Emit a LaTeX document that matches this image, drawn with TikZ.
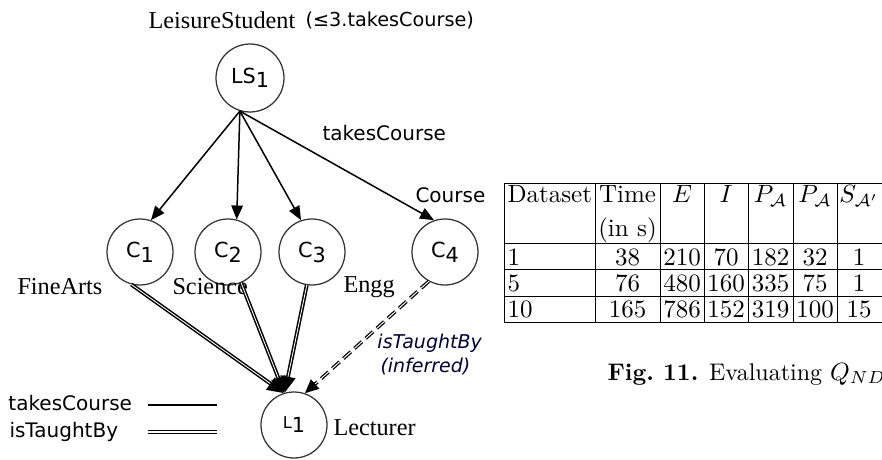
\documentclass[tikz,border=0pt]{standalone}
\usepackage{fontspec}
\usetikzlibrary{arrows.meta}
\newfontfamily\serifb{Liberation Serif}
\newfontfamily\sansv{DejaVu Sans}
\tikzset{
  vtx/.style={circle,draw=black!80,line width=0.5pt,minimum size=26.4pt,inner sep=0pt,font=\sansv\fontsize{8.3}{9}\selectfont},
  srl/.style={anchor=west,inner sep=0pt,font=\serifb\fontsize{9.7}{11}\selectfont},
  snl/.style={anchor=west,inner sep=0pt,font=\sansv\fontsize{8}{9.6}\selectfont},
  tc/.style={line width=0.6pt,-{Triangle[length=5.6pt,width=4.6pt]}},
  itb/.style={line width=0.6pt,double=white,double distance=0.35pt,-{Triangle[length=6.5pt,width=6pt]}},
  itbd/.style={line width=0.5pt,double=white,double distance=0.4pt,dashed,dash pattern=on 4pt off 2pt,-{Triangle[length=5.5pt,width=5pt]}},
  tbl/.style={line width=0.4pt},
  cell/.style={anchor=base,inner sep=0pt,font=\fontsize{10}{12}\selectfont},
}
\begin{document}
\begin{tikzpicture}[x=0.4pt,y=-0.4pt]
\useasboundingbox (0,0) rectangle (882,460);
% nodes
\node[vtx,minimum size=27.2pt] (LS1) at (250,78) {LS\raisebox{-0.35ex}{1}};
\node[vtx] (C1) at (140,252) {C\raisebox{-0.45ex}{1}};
\node[vtx] (C2) at (228,252) {C\raisebox{-0.45ex}{2}};
\node[vtx] (C3) at (312,252) {C\raisebox{-0.45ex}{3}};
\node[vtx] (C4) at (445,252) {C\raisebox{-0.45ex}{4}};
\node[vtx] (L1) at (294,425) {\raisebox{0.35ex}{\fontsize{6.5}{7}\selectfont L}1};
% labels
\node[srl] (tLS) at (148,20) {LeisureStudent};
\node[snl,font=\sansv\fontsize{7.7}{9}\selectfont] (tLSc) at (305,20) {(≤3.takesCourse)};
\node[snl] (ltc) at (322,133) {takesCourse};
\node[snl] (lco) at (415,195) {Course};
\node[srl] (lfa) at (17,287) {FineArts};
\node[srl] (lsc) at (172,287) {Science};
\node[srl] (len) at (343,287) {Engg};
\node[snl,font=\sansv\itshape\fontsize{7.6}{9}\selectfont,text=black!80!blue] (lit) at (377,343) {isTaughtBy};
\node[snl,font=\sansv\itshape\fontsize{7.6}{9}\selectfont,text=black!80!blue] (lin) at (380,367) {(inferred)};
\node[srl] (lle) at (333,428) {Lecturer};
% legend
\node[snl] (gtc) at (8,403) {takesCourse};
\node[snl] (git) at (9,432) {isTaughtBy};
\coordinate (g1a) at (148,405); \coordinate (g1b) at (217,405);
\coordinate (g2a) at (148,432); \coordinate (g2b) at (217,432);
\draw[line width=0.5pt] (g1a) -- (g1b);
\draw[line width=0.7pt,double=white,double distance=0.55pt] (g2a) -- (g2b);
% takesCourse edges
\draw[tc] (LS1.253) -- (C1.71);
\draw[tc] (LS1.253) -- (C2.75);
\draw[tc] (LS1.253) -- (C3.109);
\draw[tc] (LS1.253) -- (C4.109);
% isTaughtBy edges
\draw[itb] (C1.255) -- (L1.108);
\draw[itb] (C2.293) -- (L1.107);
\draw[itb] (C3.261) -- (L1.106);
\draw[itbd] (C4.241) -- (L1.71);
% table
\foreach \yy in {183,243,269,296,322} \draw[tbl] (504,\yy) -- (882,\yy);
\foreach \xx in {504,595,660,704,748,793,837} \draw[tbl] (\xx,183) -- (\xx,322);
\node[cell,anchor=base west] (h1) at (507,203) {Dataset};
\node[cell] (h2) at (627.5,203) {Time};
\node[cell] (h2b) at (627.5,236) {(in s)};
\node[cell] (h3) at (682,203) {$E$};
\node[cell] (h4) at (726,203) {$I$};
\node[cell] (h5) at (770.5,203) {$P_{\mathcal{A}}$};
\node[cell] (h6) at (815,203) {$P_{\mathcal{A}}$};
\node[cell] (h7) at (859,203) {$S_{\mathcal{A}'}$};
\foreach \yy/\a/\b/\c/\d/\e/\f/\g in {265/1/38/210/70/182/32/1, 291.5/5/76/480/160/335/75/1, 318/10/165/786/152/319/100/15}{
  \node[cell,anchor=base west] at (507,\yy) {\a};
  \node[cell] at (627.5,\yy) {\b};
  \node[cell] at (682,\yy) {\c};
  \node[cell] at (726,\yy) {\d};
  \node[cell] at (770.5,\yy) {\e};
  \node[cell] at (815,\yy) {\f};
  \node[cell] at (859,\yy) {\g};
}
\node[anchor=base west,inner sep=0pt,font=\fontsize{9.6}{11}\selectfont] (cap) at (607,380) {\textbf{Fig.~11.} Evaluating $Q_{ND}$};
\end{tikzpicture}
\end{document}
